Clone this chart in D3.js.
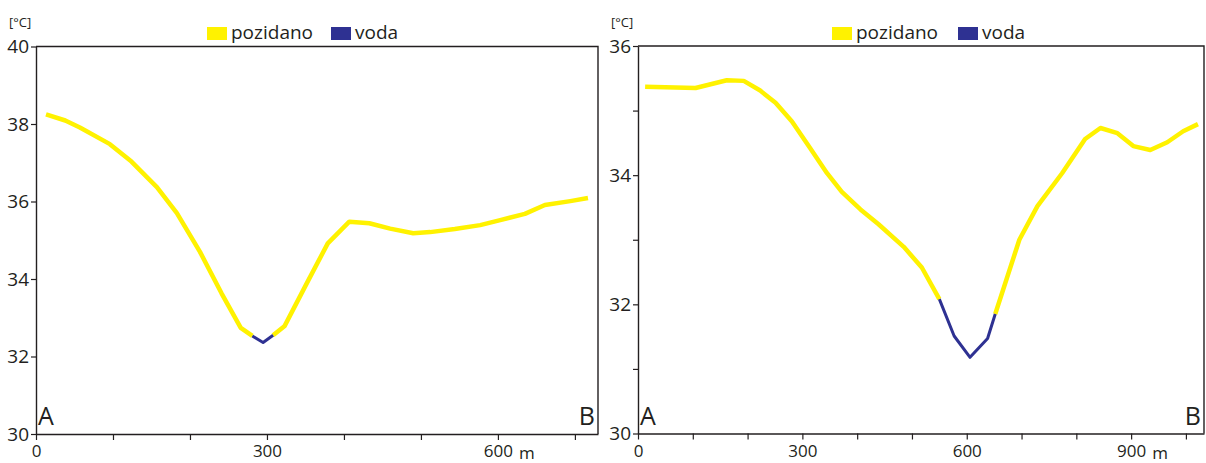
<!DOCTYPE html>
<html>
<head>
<meta charset="utf-8">
<script src="https://cdn.jsdelivr.net/npm/d3@7"></script>
<style>
  body { margin: 0; background: #fff; }
  svg text { font-family: "Open Sans", "Noto Sans", sans-serif; fill: #231f20; }
</style>
</head>
<body>
<script>
// profile A-B, left panel
const leftDist = [13, 38, 57, 96, 124, 157, 183, 213, 241, 266, 281, 295, 308, 323, 352, 379, 407, 433, 460, 490, 512, 544, 577, 603, 635, 661, 694, 717];
const leftTemp = [38.25, 38.09, 37.91, 37.48, 37.03, 36.37, 35.70, 34.70, 33.63, 32.74, 32.53, 32.36, 32.55, 32.79, 33.90, 34.92, 35.48, 35.44, 35.30, 35.18, 35.21, 35.29, 35.39, 35.52, 35.68, 35.91, 36.01, 36.09];
const leftWater = [281, 308];      // stretch over water (m)
const leftXTicks = [0, 100, 200, 300, 400, 500, 600, 700];
const leftYTicks = [30, 32, 34, 36, 38, 40];

// profile A-B, right panel
const rightDist = [13, 105, 162, 193, 223, 251, 281, 314, 345, 372, 406, 439, 485, 518, 550, 577, 606, 638, 652, 696, 729, 774, 816, 844, 875, 904, 935, 966, 995, 1022];
const rightTemp = [35.37, 35.35, 35.47, 35.46, 35.31, 35.12, 34.83, 34.42, 34.03, 33.74, 33.47, 33.24, 32.89, 32.57, 32.08, 31.51, 31.18, 31.47, 31.85, 33.0, 33.52, 34.03, 34.56, 34.73, 34.65, 34.45, 34.39, 34.51, 34.68, 34.79];
const rightWater = [550, 652];
const rightXTicks = [0, 100, 200, 300, 400, 500, 600, 700, 800, 900, 1000];
const rightYTicks = [30, 31, 32, 33, 34, 35, 36];

const legendLabels = ["pozidano", "voda"];
const colors = { pozidano: "#fff200", voda: "#2e3192" };

const svg = d3.select("body").append("svg")
  .attr("width", 1206)
  .attr("height", 463);

function drawPanel(p) {
  const x = d3.scaleLinear().domain(p.xDomain).range([p.left, p.right]);
  const y = d3.scaleLinear().domain(p.yDomain).range([p.bottom, p.top]);
  const g = svg.append("g");

  // frame (top + right)
  g.append("path")
    .attr("d", `M${p.left},${p.top}H${p.right}V${p.bottom}`)
    .attr("fill", "none")
    .attr("stroke", "#231f20")
    .attr("stroke-width", 1.4);

  // x axis
  const xa = g.append("g")
    .attr("transform", `translate(0,${p.bottom})`)
    .call(d3.axisBottom(x).tickValues(p.xTicks).tickSize(6).tickPadding(5)
      .tickFormat(d => d % 300 === 0 ? d : "").tickSizeOuter(0));
  xa.select(".domain").attr("stroke", "#231f20").attr("stroke-width", 1.4);
  xa.selectAll(".tick line").attr("stroke", "#231f20").attr("stroke-width", 1.2);
  xa.selectAll("text").style("font-size", "17px").attr("fill", "#231f20");
  const lastLab = d3.max(p.xTicks.filter(d => d % 300 === 0));
  g.append("text")
    .attr("x", x(lastLab) + 21)
    .attr("y", p.bottom + 25)
    .style("font-size", "17px")
    .text("m");

  // y axis
  const ya = g.append("g")
    .attr("transform", `translate(${p.left},0)`)
    .call(d3.axisLeft(y).tickValues(p.yTicks).tickSize(5).tickPadding(2)
      .tickFormat(d => d % 2 === 0 ? d : "").tickSizeOuter(0));
  ya.select(".domain").attr("stroke", "#231f20").attr("stroke-width", 1.4);
  ya.selectAll(".tick line").attr("stroke", "#231f20").attr("stroke-width", 1.2);
  ya.selectAll("text").style("font-size", "19px").attr("fill", "#231f20");

  g.append("text").attr("x", p.left - 27).attr("y", 27)
    .style("font-size", "13px").text("[°C]");

  // A / B
  g.append("text").attr("x", p.left + 2).attr("y", p.bottom - 9)
    .style("font-size", "25px").text("A");
  g.append("text").attr("x", p.right - 3).attr("y", p.bottom - 9)
    .attr("text-anchor", "end").style("font-size", "25px").text("B");

  // line split into land / water parts
  const pts = p.dist.map((d, i) => ({ d: d, t: p.temp[i] }));
  const runs = [
    { k: "pozidano", v: pts.filter(o => o.d <= p.water[0]) },
    { k: "pozidano", v: pts.filter(o => o.d >= p.water[1]) },
    { k: "voda", v: pts.filter(o => o.d >= p.water[0] && o.d <= p.water[1]) }
  ];
  const line = d3.line().x(o => x(o.d)).y(o => y(o.t));
  g.selectAll(".run").data(runs).enter().append("path")
    .attr("class", "run")
    .attr("d", r => line(r.v))
    .attr("fill", "none")
    .attr("stroke", r => colors[r.k])
    .attr("stroke-width", r => r.k === "voda" ? 3 : 4.5)
    .attr("stroke-linejoin", "round");

  // legend
  const lg = g.append("g").attr("transform", `translate(${p.legendX},27)`);
  legendLabels.forEach((lab, i) => {
    const off = i === 0 ? 0 : p.legendGap;
    lg.append("rect").attr("x", off).attr("y", 0).attr("width", 20).attr("height", 13)
      .attr("fill", colors[lab]);
    lg.append("text").attr("x", off + 24).attr("y", 12)
      .style("font-size", "19px").text(lab);
  });
}

drawPanel({
  dist: leftDist, temp: leftTemp, water: leftWater,
  xTicks: leftXTicks, yTicks: leftYTicks,
  xDomain: [0, 730], yDomain: [30, 40],
  left: 36, right: 598, top: 46.5, bottom: 434,
  legendX: 207, legendGap: 124
});

drawPanel({
  dist: rightDist, temp: rightTemp, water: rightWater,
  xTicks: rightXTicks, yTicks: rightYTicks,
  xDomain: [0, 1033], yDomain: [30, 36],
  left: 638, right: 1204, top: 46, bottom: 433.5,
  legendX: 832, legendGap: 126
});
</script>
</body>
</html>
